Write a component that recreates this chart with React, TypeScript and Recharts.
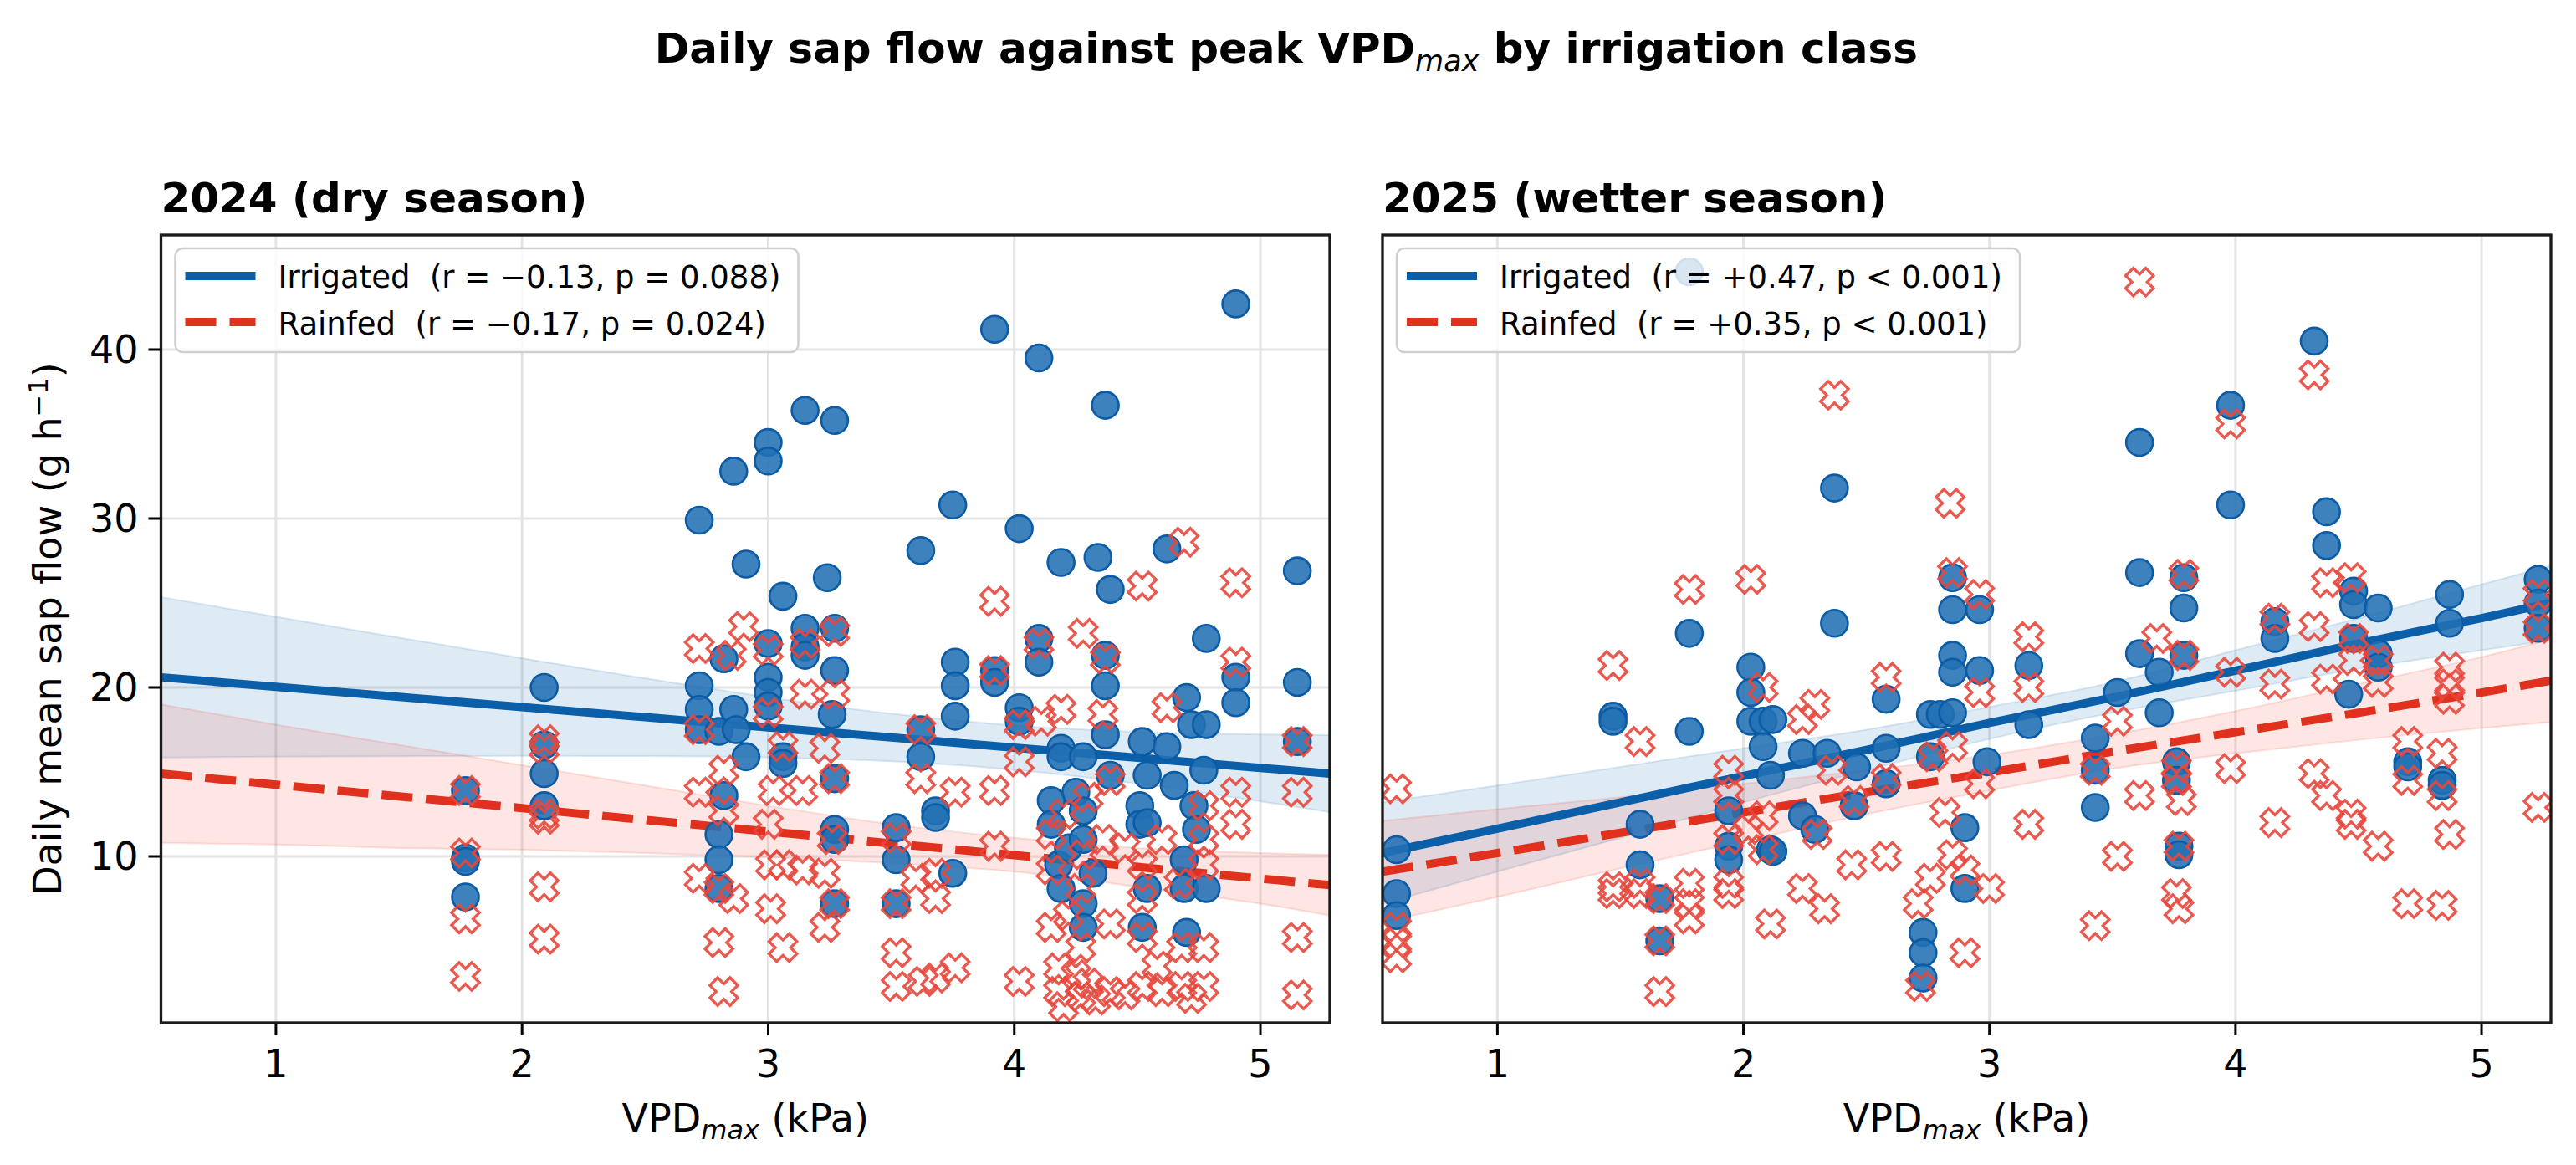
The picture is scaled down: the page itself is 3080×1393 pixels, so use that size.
import React from "react";
import { ComposedChart, Scatter, Line, Area, XAxis, YAxis, CartesianGrid } from "recharts";

const FONT = "'DejaVu Sans', sans-serif";
const X_DOMAIN: [number, number] = [0.533, 5.282];
const Y_DOMAIN: [number, number] = [0.15, 46.78];
const X_TICKS = [1, 2, 3, 4, 5];
const Y_TICKS = [10, 20, 30, 40];

// [VPDmax kPa, sap flow g/h]
const irrigated2024: [number, number][] = [
  [1.77, 13.9], [1.77, 9.9], [1.77, 9.7], [1.77, 7.6],
  [2.09, 20.0], [2.09, 16.6], [2.09, 14.9], [2.09, 13.0],
  [2.72, 29.9], [2.72, 20.1], [2.72, 18.7], [2.72, 17.5],
  [2.8, 17.4], [2.8, 11.3], [2.8, 9.8], [2.8, 8.1], [2.82, 13.6], [2.82, 21.7],
  [2.86, 32.8], [2.91, 27.3], [2.86, 18.7], [2.87, 17.5], [2.91, 15.9],
  [3.0, 34.5], [3.0, 33.4], [3.0, 22.6], [3.0, 20.6], [3.0, 19.7], [3.0, 18.9],
  [3.06, 25.4], [3.06, 15.9], [3.06, 15.5],
  [3.15, 36.4], [3.15, 23.5], [3.15, 22.4], [3.15, 21.9],
  [3.27, 35.8], [3.24, 26.5], [3.27, 23.5], [3.27, 21.0], [3.26, 18.4], [3.27, 14.6], [3.27, 11.6], [3.27, 11.0], [3.27, 7.2],
  [3.52, 11.7], [3.52, 9.8], [3.52, 7.2],
  [3.62, 28.1], [3.62, 17.5], [3.62, 15.9],
  [3.68, 12.7], [3.68, 12.3],
  [3.75, 30.8], [3.76, 21.5], [3.76, 20.1], [3.76, 18.3], [3.75, 9.0],
  [3.92, 41.2], [3.92, 21.0], [3.92, 20.3],
  [4.02, 29.4], [4.02, 18.8], [4.02, 18.0],
  [4.1, 39.5], [4.1, 22.9], [4.1, 21.5],
  [4.19, 27.4], [4.19, 16.4], [4.19, 15.9], [4.15, 13.3], [4.15, 11.9], [4.18, 9.5], [4.19, 8.1],
  [4.22, 10.5], [4.25, 13.8], [4.32, 9.0],
  [4.28, 15.9], [4.28, 12.7], [4.28, 11.0], [4.28, 7.2], [4.28, 5.8],
  [4.34, 27.7], [4.37, 36.7], [4.39, 25.8], [4.37, 21.9], [4.37, 20.1], [4.37, 17.2], [4.39, 14.8],
  [4.52, 16.8], [4.51, 13.0], [4.51, 11.9], [4.54, 12.0], [4.54, 14.8], [4.54, 8.1], [4.52, 5.8],
  [4.62, 28.2], [4.62, 16.5], [4.65, 14.2],
  [4.69, 9.8], [4.69, 8.1], [4.7, 5.5], [4.7, 19.4], [4.72, 17.8], [4.73, 13.0], [4.74, 11.6],
  [4.78, 22.9], [4.78, 17.8], [4.77, 15.1], [4.78, 8.1],
  [4.9, 42.7], [4.9, 20.6], [4.9, 19.1],
  [5.15, 26.9], [5.15, 20.3], [5.15, 16.8],
];

const rainfed2024: [number, number][] = [
  [1.77, 13.9], [1.77, 10.2], [1.77, 6.3], [1.77, 2.9],
  [2.09, 16.9], [2.09, 16.4], [2.09, 12.5], [2.09, 12.2], [2.09, 8.2], [2.09, 5.1],
  [2.72, 22.3], [2.72, 17.5], [2.72, 13.8], [2.72, 8.7],
  [2.9, 23.6], [2.85, 21.9], [2.82, 15.1], [2.82, 12.7], [2.8, 8.1], [2.86, 7.5], [2.8, 4.9], [2.82, 2.0],
  [3.0, 22.2], [3.0, 18.5], [3.02, 13.9], [3.0, 11.9], [3.01, 9.5], [3.01, 6.9],
  [3.15, 22.6], [3.15, 19.6], [3.14, 13.9], [3.14, 9.2], [3.06, 16.5], [3.06, 9.5], [3.06, 4.6],
  [3.27, 23.3], [3.27, 19.6], [3.23, 16.4], [3.27, 14.6], [3.26, 11.0], [3.27, 7.2], [3.23, 5.8], [3.23, 9.0],
  [3.52, 11.1], [3.52, 7.2], [3.52, 4.3], [3.52, 2.3], [3.6, 8.7],
  [3.62, 17.5], [3.62, 14.6],
  [3.68, 9.0], [3.68, 7.5], [3.63, 2.6], [3.68, 2.8],
  [3.76, 13.8], [3.76, 3.4],
  [3.92, 25.1], [3.92, 21.0], [3.92, 13.9], [3.92, 10.6],
  [4.02, 17.8], [4.02, 15.6], [4.02, 2.6],
  [4.1, 22.6], [4.19, 18.7], [4.11, 18.0],
  [4.15, 11.3], [4.15, 9.2], [4.15, 5.8], [4.18, 3.4], [4.18, 2.0], [4.2, 1.1],
  [4.2, 12.5], [4.22, 6.5], [4.25, 3.0], [4.3, 2.5], [4.33, 1.5], [4.3, 13.5],
  [4.28, 23.2], [4.28, 10.1], [4.27, 8.1], [4.27, 4.6], [4.27, 1.7],
  [4.37, 21.7], [4.36, 18.4], [4.39, 14.5], [4.36, 11.0], [4.39, 6.0], [4.39, 2.0],
  [4.45, 10.5], [4.45, 1.8],
  [4.52, 26.0], [4.52, 9.5], [4.52, 7.5], [4.52, 5.2], [4.52, 2.3],
  [4.58, 3.5], [4.6, 11.0], [4.6, 2.0], [4.62, 18.8],
  [4.69, 28.6], [4.67, 8.4], [4.68, 4.6], [4.68, 2.3], [4.72, 1.6],
  [4.77, 13.0], [4.77, 11.0], [4.77, 9.5], [4.77, 4.6], [4.77, 2.3],
  [4.9, 26.2], [4.9, 21.5], [4.9, 13.8], [4.9, 11.9],
  [5.15, 16.8], [5.15, 13.8], [5.15, 5.2], [5.15, 1.8],
];

const irrigated2025: [number, number][] = [
  [0.59, 10.4], [0.59, 7.8], [0.59, 6.5],
  [1.47, 18.3], [1.47, 18.0],
  [1.58, 11.9], [1.58, 9.5],
  [1.66, 7.5], [1.66, 5.0],
  [1.78, 44.6], [1.78, 23.2], [1.78, 17.4],
  [1.94, 12.7], [1.94, 10.6], [1.94, 9.8],
  [2.03, 21.2], [2.03, 19.7], [2.03, 18.0], [2.08, 18.0], [2.08, 16.5], [2.11, 14.8], [2.11, 10.4], [2.12, 18.1], [2.12, 10.3],
  [2.24, 16.1], [2.24, 12.4], [2.29, 11.6], [2.34, 16.1],
  [2.37, 31.8], [2.37, 23.8],
  [2.45, 13.0], [2.46, 15.3],
  [2.58, 19.3], [2.58, 16.4], [2.58, 14.3],
  [2.73, 5.5], [2.73, 4.3], [2.73, 2.8],
  [2.76, 18.4], [2.76, 15.9], [2.8, 18.4],
  [2.85, 26.5], [2.85, 24.6], [2.85, 21.9], [2.85, 20.9], [2.85, 18.5],
  [2.9, 11.7], [2.9, 8.1],
  [2.96, 24.6], [2.96, 21.0], [2.99, 15.6],
  [3.16, 21.3], [3.16, 17.8],
  [3.43, 17.0], [3.43, 15.1], [3.43, 12.9],
  [3.52, 19.7],
  [3.61, 34.5], [3.61, 26.8], [3.61, 22.0],
  [3.69, 18.5], [3.69, 20.9],
  [3.76, 15.6], [3.76, 14.5], [3.77, 10.6], [3.77, 10.1],
  [3.79, 26.5], [3.79, 24.7], [3.79, 21.9],
  [3.98, 36.7], [3.98, 30.8],
  [4.16, 23.9], [4.16, 22.9],
  [4.32, 40.5],
  [4.37, 30.4], [4.37, 28.4],
  [4.46, 19.6], [4.48, 25.7], [4.48, 24.9], [4.48, 22.9],
  [4.58, 24.7], [4.58, 22.0], [4.58, 21.2],
  [4.7, 15.6], [4.7, 15.3],
  [4.84, 14.5], [4.84, 14.2],
  [4.87, 25.5], [4.87, 23.8],
  [5.23, 26.4], [5.23, 25.0], [5.23, 23.5],
];

const rainfed2025: [number, number][] = [
  [0.59, 14.0], [0.59, 5.8], [0.59, 4.9], [0.59, 4.0],
  [1.47, 21.3], [1.47, 8.2], [1.47, 7.8],
  [1.58, 16.8], [1.58, 8.4], [1.58, 7.8],
  [1.66, 7.5], [1.66, 5.0], [1.66, 2.0],
  [1.78, 25.8], [1.78, 8.4], [1.78, 7.2], [1.78, 6.3],
  [1.94, 15.1], [1.94, 13.6], [1.94, 11.0], [1.94, 8.4], [1.94, 7.8],
  [2.02, 11.6], [2.03, 26.4], [2.08, 20.0], [2.08, 12.4], [2.08, 10.4], [2.11, 6.0],
  [2.24, 18.1], [2.29, 19.0], [2.36, 15.1], [2.45, 13.3], [2.3, 11.3], [2.24, 8.1], [2.33, 6.9], [2.44, 9.5],
  [2.37, 37.3],
  [2.58, 20.6], [2.58, 14.6], [2.58, 10.0],
  [2.71, 7.2], [2.76, 8.7], [2.72, 2.3], [2.77, 15.9],
  [2.84, 30.9], [2.85, 26.8], [2.85, 16.5], [2.82, 12.6], [2.85, 10.1], [2.9, 9.2], [2.9, 4.3],
  [2.96, 25.5], [2.96, 19.7], [2.96, 14.3], [3.0, 8.1],
  [3.16, 23.0], [3.16, 20.0], [3.16, 11.9],
  [3.43, 15.1], [3.43, 5.9],
  [3.52, 18.0], [3.52, 10.0],
  [3.61, 44.0], [3.61, 13.6],
  [3.68, 22.9],
  [3.76, 15.3], [3.76, 14.5], [3.78, 13.3], [3.77, 10.6], [3.76, 7.8], [3.77, 6.9],
  [3.79, 26.7], [3.79, 21.9],
  [3.98, 35.6], [3.98, 20.9], [3.98, 15.2],
  [4.16, 24.1], [4.16, 20.2], [4.16, 12.0],
  [4.32, 38.5], [4.32, 23.6], [4.32, 14.9],
  [4.37, 26.2], [4.37, 20.5], [4.37, 13.6],
  [4.47, 26.5], [4.48, 22.9], [4.48, 21.6], [4.47, 12.5], [4.47, 11.9],
  [4.58, 21.6], [4.58, 20.3], [4.58, 10.6],
  [4.7, 16.8], [4.7, 14.5], [4.7, 7.2],
  [4.84, 16.1], [4.84, 13.6], [4.84, 7.1],
  [4.87, 21.2], [4.87, 20.2], [4.87, 19.3], [4.87, 11.3],
  [5.23, 25.5], [5.23, 23.5], [5.23, 12.9],
];

// regression fit + 95% band, read at these VPD values
const fitX = [0.533, 1, 1.5, 2, 2.5, 3, 3.5, 4, 4.5, 5, 5.282];
const irrFit2024 = [20.6, 20.04, 19.44, 18.84, 18.24, 17.64, 17.04, 16.44, 15.84, 15.24, 14.9];
const irrLo2024 = [15.85, 15.9, 15.93, 15.95, 15.94, 15.86, 15.63, 15.13, 14.31, 13.26, 12.62];
const irrHi2024 = [25.35, 24.18, 22.95, 21.73, 20.54, 19.42, 18.45, 17.75, 17.37, 17.22, 17.18];
const rainFit2024 = [14.9, 14.25, 13.55, 12.86, 12.16, 11.47, 10.77, 10.08, 9.38, 8.69, 8.3];
const rainLo2024 = [10.8, 10.7, 10.5, 10.4, 10.2, 9.95, 9.6, 9.1, 8.2, 7.2, 6.5];
const rainHi2024 = [19.0, 17.8, 16.6, 15.4, 14.2, 13.0, 11.9, 11.1, 10.5, 10.2, 10.1];

const irrFit2025 = [10.2, 11.64, 13.2, 14.76, 16.3, 17.9, 19.4, 21.0, 22.6, 24.1, 25.0];
const irrLo2025 = [7.2, 9.1, 11.1, 13.2, 15.1, 16.95, 18.5, 19.8, 21.1, 22.2, 22.8];
const irrHi2025 = [13.2, 14.2, 15.3, 16.4, 17.5, 18.85, 20.3, 22.2, 24.1, 26.1, 27.2];
const rainFit2025 = [9.1, 10.2, 11.4, 12.6, 13.8, 14.96, 16.2, 17.35, 18.5, 19.7, 20.4];
const rainLo2025 = [6.1, 7.6, 9.3, 10.9, 12.5, 13.9, 15.2, 16.1, 16.9, 17.6, 17.95];
const rainHi2025 = [12.1, 12.8, 13.5, 14.3, 15.1, 16.0, 17.2, 18.6, 20.2, 21.8, 22.85];

const BLUE = "#0b5ea8";
const RED = "#e0301e";

const toPts = (arr: [number, number][]) => arr.map(([x, y]) => ({ x, y }));

const buildFit = (irrFit: number[], irrLo: number[], irrHi: number[], rainFit: number[], rainLo: number[], rainHi: number[]) =>
  fitX.map((x, i) => ({
    x,
    irrFit: irrFit[i],
    irrBand: [irrLo[i], irrHi[i]],
    rainFit: rainFit[i],
    rainBand: [rainLo[i], rainHi[i]],
  }));

const Dot = (props: any) => {
  const { cx, cy } = props;
  if (cx == null || cy == null) return null;
  return <circle cx={cx} cy={cy} r={16} fill="#2270b4" fillOpacity={0.88} stroke="#0b5ba5" strokeWidth={2.6} />;
};

const plus: [number, number][] = [
  [6.5, 17], [6.5, 6.5], [17, 6.5], [17, -6.5], [6.5, -6.5], [6.5, -17],
  [-6.5, -17], [-6.5, -6.5], [-17, -6.5], [-17, 6.5], [-6.5, 6.5], [-6.5, 17],
];

const Cross = (props: any) => {
  const { cx, cy } = props;
  if (cx == null || cy == null) return null;
  const pts = plus
    .map(([px, py]) => `${cx + (px - py) / Math.SQRT2},${cy + (px + py) / Math.SQRT2}`)
    .join(" ");
  return <polygon points={pts} fill="none" stroke="#e8473c" strokeOpacity={0.9} strokeWidth={3.4} strokeLinejoin="miter" />;
};

const tickStyle = { fontSize: 46, fill: "#000", fontFamily: FONT };

interface PanelProps {
  irrigated: [number, number][];
  rainfed: [number, number][];
  fit: any[];
  left: number;
  width: number;
  marginLeft: number;
  marginRight: number;
  yAxisWidth: number;
  showYLabels: boolean;
}

const Panel: React.FC<PanelProps> = ({ irrigated, rainfed, fit, left, width, marginLeft, marginRight, yAxisWidth, showYLabels }) => (
  <div style={{ position: "absolute", left, top: 0 }}>
    <ComposedChart
      width={width}
      height={1393}
      data={fit}
      margin={{ top: 281, right: marginRight, bottom: 10, left: marginLeft }}
    >
      <CartesianGrid stroke="#e4e4e4" strokeWidth={3} />
      <XAxis
        dataKey="x"
        type="number"
        domain={X_DOMAIN}
        allowDataOverflow
        ticks={X_TICKS}
        interval={0}
        height={160}
        axisLine={false}
        tickLine={{ stroke: "#000", strokeWidth: 3 }}
        tickSize={15}
        tickMargin={17}
        tick={tickStyle}
      />
      <YAxis
        type="number"
        domain={Y_DOMAIN}
        allowDataOverflow
        ticks={Y_TICKS}
        interval={0}
        width={yAxisWidth}
        axisLine={false}
        tickLine={{ stroke: "#000", strokeWidth: 3 }}
        tickSize={15}
        tickMargin={12}
        tick={showYLabels ? tickStyle : false}
      />
      <Area dataKey="irrBand" type="monotone" fill="#1f6fb4" fillOpacity={0.14} stroke="#1f6fb4" strokeOpacity={0.15} strokeWidth={2} isAnimationActive={false} />
      <Area dataKey="rainBand" type="monotone" fill="#ef3b2c" fillOpacity={0.13} stroke="#ef3b2c" strokeOpacity={0.15} strokeWidth={2} isAnimationActive={false} />
      <Scatter data={toPts(irrigated)} dataKey="y" shape={Dot} isAnimationActive={false} />
      <Scatter data={toPts(rainfed)} dataKey="y" shape={Cross} isAnimationActive={false} />
      <Line dataKey="irrFit" type="linear" stroke={BLUE} strokeWidth={10} dot={false} isAnimationActive={false} />
      <Line dataKey="rainFit" type="linear" stroke={RED} strokeWidth={10} strokeDasharray="37 16" dot={false} isAnimationActive={false} />
    </ComposedChart>
  </div>
);

const Legend: React.FC<{ x: number; irrText: string; rainText: string }> = ({ x, irrText, rainText }) => (
  <g>
    <rect x={x + 17} y={297} width={745} height={124} rx={9} fill="#fff" fillOpacity={0.8} stroke="#cfcfcf" strokeWidth={2.5} />
    <line x1={x + 29} x2={x + 113} y1={330} y2={330} stroke={BLUE} strokeWidth={10} />
    <line x1={x + 29} x2={x + 113} y1={385} y2={385} stroke={RED} strokeWidth={10} strokeDasharray="37 16" />
    <text x={x + 140} y={344} fontSize={37} fontFamily={FONT} style={{ whiteSpace: "pre" }}>{irrText}</text>
    <text x={x + 140} y={400} fontSize={37} fontFamily={FONT} style={{ whiteSpace: "pre" }}>{rainText}</text>
  </g>
);

const XLabel: React.FC<{ cx: number }> = ({ cx }) => (
  <text x={cx} y={1353} textAnchor="middle" fontSize={46} fontFamily={FONT}>
    VPD<tspan fontStyle="italic" fontSize={32} dy={9}>max</tspan>
    <tspan dy={-9}> (kPa)</tspan>
  </text>
);

const App: React.FC = () => {
  const fit2024 = buildFit(irrFit2024, irrLo2024, irrHi2024, rainFit2024, rainLo2024, rainHi2024);
  const fit2025 = buildFit(irrFit2025, irrLo2025, irrHi2025, rainFit2025, rainLo2025, rainHi2025);
  const L1 = 192.5, R1 = 1590, L2 = 1653, R2 = 3050, T = 281, B = 1223;
  return (
    <div style={{ position: "absolute", left: 0, top: 0, width: 3080, height: 1393, background: "#fff", fontFamily: FONT }}>
      <Panel irrigated={irrigated2024} rainfed={rainfed2024} fit={fit2024} left={0} width={1600}
        marginLeft={L1 - 180} marginRight={1600 - R1} yAxisWidth={180} showYLabels />
      <Panel irrigated={irrigated2025} rainfed={rainfed2025} fit={fit2025} left={1600} width={1480}
        marginLeft={L2 - 1600 - 40} marginRight={1600 + 1480 - R2} yAxisWidth={40} showYLabels={false} />
      <svg width={3080} height={1393} style={{ position: "absolute", left: 0, top: 0, pointerEvents: "none" }}>
        <rect x={L1} y={T} width={R1 - L1} height={B - T} fill="none" stroke="#1a1a1a" strokeWidth={3.3} />
        <rect x={L2} y={T} width={R2 - L2} height={B - T} fill="none" stroke="#1a1a1a" strokeWidth={3.3} />
        <text x={1538} y={75} textAnchor="middle" fontSize={50} fontWeight="bold" fontFamily={FONT}>
          Daily sap flow against peak VPD<tspan fontStyle="italic" fontWeight="normal" fontSize={35} dy={10}>max</tspan>
          <tspan dy={-10}> by irrigation class</tspan>
        </text>
        <text x={L1} y={254} fontSize={50} fontWeight="bold" fontFamily={FONT}>2024 (dry season)</text>
        <text x={L2} y={254} fontSize={50} fontWeight="bold" fontFamily={FONT}>2025 (wetter season)</text>
        <text transform="translate(73,752) rotate(-90)" textAnchor="middle" fontSize={46} fontFamily={FONT}>
          Daily mean sap flow (g h<tspan fontSize={32} dy={-16}>−1</tspan><tspan dy={16}>)</tspan>
        </text>
        <XLabel cx={(L1 + R1) / 2} />
        <XLabel cx={(L2 + R2) / 2} />
        <Legend x={L1} irrText="Irrigated  (r = −0.13, p = 0.088)" rainText="Rainfed  (r = −0.17, p = 0.024)" />
        <Legend x={L2} irrText="Irrigated  (r = +0.47, p < 0.001)" rainText="Rainfed  (r = +0.35, p < 0.001)" />
      </svg>
    </div>
  );
};

export default App;
